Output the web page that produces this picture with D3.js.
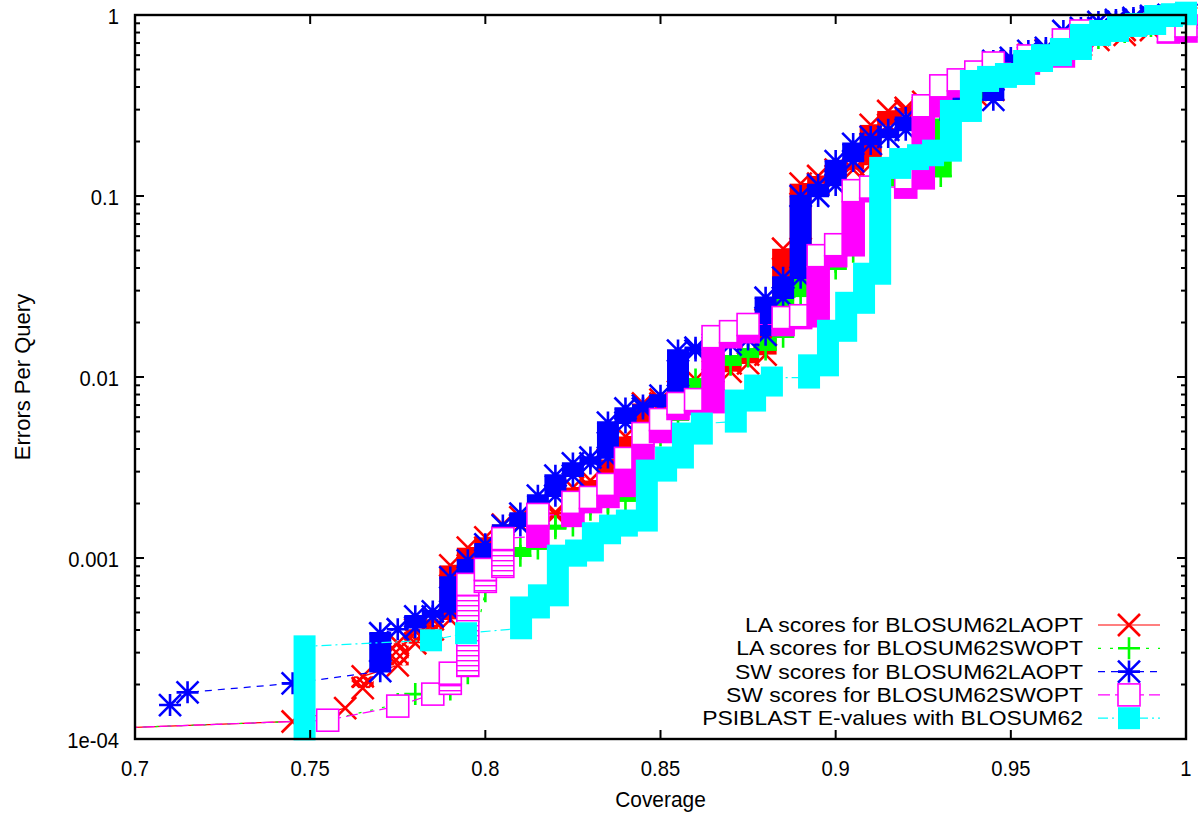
<!DOCTYPE html>
<html><head><meta charset="utf-8">
<script src="https://cdn.jsdelivr.net/npm/d3@7"></script>
<style>body{margin:0;background:#fff} text{font-family:"Liberation Sans",Arial,sans-serif;fill:#000}</style>
</head><body><svg id="c" width="1200" height="819"></svg>
<script>
// ---- data ----
const xTicks = [0.7, 0.75, 0.8, 0.85, 0.9, 0.95, 1];
const xTickLabels = ["0.7", "0.75", "0.8", "0.85", "0.9", "0.95", "1"];
const yTicks = [1e-4, 1e-3, 1e-2, 0.1, 1];
const yTickLabels = ["1e-04", "0.001", "0.01", "0.1", "1"];
const seriesNames = [
  "LA scores for BLOSUM62LAOPT",
  "LA scores for BLOSUM62SWOPT",
  "SW scores for BLOSUM62LAOPT",
  "SW scores for BLOSUM62SWOPT",
  "PSIBLAST E-values with BLOSUM62"
];
// each entry: [coverage, errors per query at bottom of run, errors per query at top of run]
const laLaopt = [
  [0.61,1.0e-4,1.0e-4],[0.745,1.25e-4,1.25e-4],[0.76,1.48e-4,1.48e-4],[0.765,1.91e-4,2.22e-4],
  [0.775,2.55e-4,3.38e-4],[0.78,3.38e-4,4.04e-4],[0.785,4.04e-4,4.58e-4],[0.79,4.58e-4,9.10e-4],
  [0.795,9.10e-4,1.14e-3],[0.80,1.14e-3,1.30e-3],[0.805,1.30e-3,1.53e-3],[0.81,1.53e-3,1.68e-3],
  [0.815,1.68e-3,1.74e-3],[0.82,1.74e-3,1.79e-3],[0.825,1.79e-3,2.45e-3],[0.83,2.45e-3,2.68e-3],
  [0.835,2.68e-3,3.50e-3],[0.84,3.50e-3,4.69e-3],[0.845,4.69e-3,7.14e-3],[0.85,7.14e-3,7.50e-3],
  [0.855,7.50e-3,8.30e-3],[0.86,8.30e-3,9.68e-3],[0.865,9.68e-3,1.07e-2],[0.87,1.07e-2,1.19e-2],
  [0.875,1.19e-2,1.33e-2],[0.88,1.33e-2,2.07e-2],[0.885,2.07e-2,5.11e-2],[0.89,5.11e-2,0.117],
  [0.895,0.117,0.129],[0.90,0.129,0.140],[0.905,0.140,0.149],[0.91,0.149,0.247],
  [0.915,0.247,0.295],[0.92,0.295,0.307],[0.925,0.307,0.331],[0.93,0.331,0.348],
  [0.935,0.348,0.362],[0.94,0.362,0.386],[0.945,0.386,0.497],[0.95,0.497,0.550],
  [0.955,0.550,0.602],[0.96,0.602,0.641],[0.965,0.641,0.683],[0.97,0.683,0.728],
  [0.975,0.728,0.776],[0.9825,0.776,0.826],[0.99,0.826,0.915],[0.995,0.915,0.963],[1.0,0.963,1.0]
];
const laSwopt = [
  [0.61,1.0e-4,1.0e-4],[0.755,1.27e-4,1.27e-4],[0.775,1.56e-4,1.56e-4],[0.78,1.77e-4,1.77e-4],
  [0.79,1.88e-4,2.31e-4],[0.795,2.31e-4,2.31e-4],[0.80,6.55e-4,9.82e-4],[0.805,9.82e-4,1.03e-3],
  [0.81,1.03e-3,1.13e-3],[0.815,1.13e-3,1.46e-3],[0.82,1.46e-3,1.50e-3],[0.825,1.51e-3,1.85e-3],
  [0.83,1.85e-3,1.98e-3],[0.835,1.98e-3,2.03e-3],[0.84,2.08e-3,2.72e-3],[0.845,2.72e-3,4.52e-3],
  [0.85,4.75e-3,5.82e-3],[0.855,5.82e-3,7.50e-3],[0.86,7.50e-3,9.68e-3],[0.865,9.68e-3,1.17e-2],
  [0.87,1.17e-2,1.30e-2],[0.875,1.30e-2,1.42e-2],[0.88,1.42e-2,1.61e-2],[0.885,1.67e-2,2.67e-2],
  [0.89,2.81e-2,3.92e-2],[0.895,3.92e-2,3.97e-2],[0.90,3.97e-2,4.33e-2],[0.905,4.92e-2,0.0953],
  [0.91,0.0953,0.115],[0.915,0.115,0.123],[0.92,0.123,0.129],[0.925,0.129,0.129],
  [0.93,0.129,0.263],[0.935,0.263,0.340],[0.94,0.340,0.411],[0.945,0.411,0.497],
  [0.95,0.497,0.530],[0.955,0.530,0.579],[0.96,0.579,0.617],[0.965,0.625,0.683],
  [0.97,0.683,0.747],[0.975,0.747,0.806],[0.9825,0.806,0.870],[0.99,0.870,0.938],[1.0,0.938,1.0]
];
const swLaopt = [
  [0.71,1.54e-4,1.54e-4],[0.715,1.81e-4,1.81e-4],[0.745,2.03e-4,2.03e-4],[0.77,2.37e-4,3.84e-4],
  [0.775,4.04e-4,4.04e-4],[0.78,4.14e-4,4.76e-4],[0.785,4.76e-4,5.07e-4],[0.79,5.07e-4,7.81e-4],
  [0.795,7.81e-4,9.71e-4],[0.80,9.71e-4,1.19e-3],[0.805,1.19e-3,1.51e-3],[0.81,1.51e-3,1.76e-3],
  [0.815,1.76e-3,2.21e-3],[0.82,2.21e-3,2.85e-3],[0.825,2.85e-3,3.33e-3],[0.83,3.33e-3,3.59e-3],
  [0.835,3.59e-3,5.60e-3],[0.84,5.60e-3,6.70e-3],[0.845,6.70e-3,6.95e-3],[0.85,6.95e-3,7.89e-3],
  [0.855,7.89e-3,1.40e-2],[0.86,1.40e-2,1.45e-2],[0.865,1.45e-2,1.51e-2],[0.87,1.51e-2,1.61e-2],
  [0.875,1.61e-2,1.71e-2],[0.88,1.71e-2,2.74e-2],[0.885,2.74e-2,3.54e-2],[0.89,3.54e-2,0.100],
  [0.895,0.100,0.115],[0.90,0.115,0.156],[0.905,0.156,0.194],[0.91,0.194,0.212],
  [0.915,0.212,0.232],[0.92,0.232,0.270],[0.925,0.270,0.299],[0.93,0.299,0.323],
  [0.935,0.323,0.340],[0.945,0.340,0.557],[0.95,0.557,0.579],[0.955,0.579,0.633],
  [0.96,0.633,0.658],[0.965,0.658,0.816],[0.97,0.816,0.848],[0.975,0.848,0.915],
  [0.98,0.915,0.938],[0.985,0.938,0.963],[0.99,0.963,0.987],[0.995,0.987,1.0],[1.0,1.0,1.01]
];
const swSwopt = [
  [0.61,1.0e-4,1.0e-4],[0.755,1.27e-4,1.27e-4],[0.775,1.52e-4,1.52e-4],[0.785,1.77e-4,1.77e-4],
  [0.79,2.03e-4,2.31e-4],[0.795,2.55e-4,7.15e-4],[0.80,7.43e-4,8.65e-4],[0.805,8.99e-4,1.28e-3],
  [0.815,1.32e-3,1.74e-3],[0.825,1.72e-3,2.03e-3],[0.83,2.05e-3,2.16e-3],[0.835,2.19e-3,2.55e-3],
  [0.84,2.52e-3,3.55e-3],[0.845,3.55e-3,4.87e-3],[0.85,5.00e-3,5.82e-3],[0.855,6.70e-3,7.14e-3],
  [0.86,7.14e-3,7.50e-3],[0.865,7.31e-3,1.67e-2],[0.87,1.67e-2,1.78e-2],[0.875,1.78e-2,1.95e-2],
  [0.885,1.95e-2,2.13e-2],[0.89,2.13e-2,2.18e-2],[0.895,2.18e-2,4.68e-2],[0.90,4.68e-2,5.38e-2],
  [0.905,5.38e-2,0.107],[0.91,0.107,0.112],[0.92,0.112,0.126],[0.925,0.126,0.315],
  [0.93,0.315,0.406],[0.935,0.406,0.438],[0.94,0.438,0.484],[0.945,0.484,0.543],
  [0.955,0.543,0.594],[0.965,0.594,0.728],[0.97,0.728,0.816],[0.995,0.805,0.816],[1.0,0.816,0.870]
];
const psiblast = [
  [0.7484,1.13e-4,3.25e-4],[0.7845,3.51e-4,3.51e-4],[0.7945,3.84e-4,3.84e-4],[0.8102,4.09e-4,5.33e-4],
  [0.8153,5.33e-4,6.22e-4],[0.8207,6.22e-4,1.03e-3],[0.8259,1.03e-3,1.10e-3],[0.8307,1.10e-3,1.37e-3],
  [0.8356,1.37e-3,1.51e-3],[0.8404,1.51e-3,1.61e-3],[0.8461,1.61e-3,3.04e-3],[0.8516,3.04e-3,3.59e-3],
  [0.8564,3.59e-3,4.87e-3],[0.8618,4.87e-3,5.53e-3],[0.8715,5.67e-3,7.41e-3],[0.8770,7.41e-3,8.97e-3],
  [0.8818,8.97e-3,9.93e-3],[0.8924,9.93e-3,1.16e-2],[0.8978,1.16e-2,1.80e-2],[0.9030,1.80e-2,2.57e-2],
  [0.9081,2.57e-2,3.72e-2],[0.9127,3.72e-2,0.143],[0.9184,0.143,0.160],[0.9235,0.160,0.168],
  [0.9278,0.168,0.178],[0.9329,0.178,0.295],[0.9386,0.295,0.432],[0.9435,0.432,0.455],
  [0.9486,0.455,0.472],[0.9538,0.472,0.557],[0.9589,0.557,0.600],[0.9643,0.600,0.649],
  [0.9700,0.649,0.776],[0.9755,0.776,0.816],[0.9806,0.816,0.870],[0.9857,0.870,0.892],
  [0.9912,0.892,0.987],[0.9960,0.987,1.01],[1.0,1.01,1.03]
];
const seriesData = [laLaopt, laSwopt, swLaopt, swSwopt, psiblast];
const seriesColors = ["#ff0000", "#00ff00", "#0000ff", "#ff00ff", "#00ffff"];
const seriesShapes = ["x", "plus", "star", "square", "filledSquare"];
const seriesDashes = [null, "3,9", "7,6", "12,5", "10,4,2,4"];

// ---- layout ----
const M = {left: 135, right: 1186, top: 15, bottom: 739};
const x = d3.scaleLinear().domain([0.7, 1]).range([M.left, M.right]);
const y = d3.scaleLog().domain([1e-4, 1]).range([M.bottom, M.top]);
const S = 11; // marker half-size
const svg = d3.select("#c");
const defs = svg.append("defs");
defs.append("clipPath").attr("id", "clip").append("rect")
  .attr("x", M.left).attr("y", M.top).attr("width", M.right - M.left).attr("height", M.bottom - M.top);
const pat = defs.append("pattern").attr("id", "hatch").attr("patternUnits", "userSpaceOnUse")
  .attr("width", 8).attr("height", 5);
pat.append("rect").attr("width", 8).attr("height", 5).attr("fill", "#fff");
pat.append("rect").attr("y", 0).attr("width", 8).attr("height", 1.4).attr("fill", "#ff00ff");
const xpat = defs.append("pattern").attr("id", "xhatch").attr("patternUnits", "userSpaceOnUse")
  .attr("width", 8).attr("height", 8);
xpat.append("rect").attr("width", 8).attr("height", 8).attr("fill", "#fff");
xpat.append("path").attr("d", "M0,0L8,8M8,0L0,8").attr("stroke", "#ff0000").attr("stroke-width", 2.4);

function markerPath(shape) {
  const xs = `M${-S},${-S}L${S},${S}M${-S},${S}L${S},${-S}`;
  const ps = `M${-S},0L${S},0M0,${-S}L0,${S}`;
  if (shape === "x") return xs;
  if (shape === "plus") return ps;
  return xs + ps;
}

function drawMarker(g, shape, color, cx, cy) {
  if (shape === "filledSquare") {
    g.append("rect").attr("x", cx - S).attr("y", cy - S).attr("width", 2 * S).attr("height", 2 * S).attr("fill", color);
  } else if (shape === "square") {
    g.append("rect").attr("x", cx - S).attr("y", cy - S).attr("width", 2 * S).attr("height", 2 * S)
      .attr("fill", "#fff").attr("stroke", color).attr("stroke-width", 1.6);
  } else {
    g.append("path").attr("transform", `translate(${cx},${cy})`).attr("d", markerPath(shape))
      .attr("stroke", color).attr("stroke-width", 2.6).attr("fill", "none");
  }
}

function drawRun(g, d, shape, color) {
  const cx = x(d[0]), yl = y(d[1]), yh = y(d[2]);
  const h = yl - yh;
  if (shape === "filledSquare") {
    g.append("rect").attr("x", cx - S).attr("y", yh - S).attr("width", 2 * S).attr("height", h + 2 * S).attr("fill", color);
    return;
  }
  if (shape === "square") {
    if (h > 0.5) {
      g.append("rect").attr("x", cx - S).attr("y", yh + S).attr("width", 2 * S).attr("height", h)
        .attr("fill", d[2] < 1.5e-3 ? "url(#hatch)" : color).attr("stroke", color).attr("stroke-width", 1.6);
    }
    drawMarker(g, shape, color, cx, yh);
    return;
  }
  if (h > 0.5) {
    const pad = shape === "plus" ? 1.3 : 0;
    const sparse = shape === "x" && d[2] < 6e-4;
    g.append("rect").attr("x", cx - S).attr("y", yh - pad).attr("width", 2 * S).attr("height", h + 2 * pad)
      .attr("fill", sparse ? "url(#xhatch)" : color);
    drawMarker(g, shape, color, cx, yl);
  }
  drawMarker(g, shape, color, cx, yh);
}

// ---- series ----
const plotG = svg.append("g");
seriesData.forEach((data, i) => {
  const g = plotG.append("g");
  const pts = [];
  data.forEach(d => { pts.push([d[0], d[1]]); if (d[2] !== d[1]) pts.push([d[0], d[2]]); });
  const line = d3.line().x(p => x(p[0])).y(p => y(p[1]));
  g.append("path").attr("d", line(pts)).attr("clip-path", "url(#clip)")
    .attr("fill", "none").attr("stroke", seriesColors[i]).attr("stroke-width", 1.2)
    .attr("stroke-dasharray", seriesDashes[i]);
  data.filter(d => d[0] >= 0.7).forEach(d => drawRun(g, d, seriesShapes[i], seriesColors[i]));
});

// ---- axes ----
const axG = svg.append("g");
const tickMaj = 9, tickMin = 5;
function label(g, tx, ty, str, anchor, size, sx) {
  g.append("text").attr("transform", `translate(${tx},${ty}) scale(${sx},1)`)
    .attr("text-anchor", anchor).attr("dominant-baseline", "central").attr("font-size", size).text(str);
}
xTicks.forEach(t => {
  const px = x(t);
  axG.append("line").attr("x1", px).attr("x2", px).attr("y1", M.bottom).attr("y2", M.bottom - tickMaj).attr("stroke", "#000").attr("stroke-width", 2);
  axG.append("line").attr("x1", px).attr("x2", px).attr("y1", M.top).attr("y2", M.top + tickMaj).attr("stroke", "#000").attr("stroke-width", 2);
});
xTickLabels.forEach((lab, i) => label(axG, x(xTicks[i]), 768, lab, "middle", 22, 0.92));
yTicks.forEach((t, i) => {
  const py = y(t);
  axG.append("line").attr("x1", M.left).attr("x2", M.left + tickMaj).attr("y1", py).attr("y2", py).attr("stroke", "#000").attr("stroke-width", 2);
  axG.append("line").attr("x1", M.right).attr("x2", M.right - tickMaj).attr("y1", py).attr("y2", py).attr("stroke", "#000").attr("stroke-width", 2);
  label(axG, 119, py + 1, yTickLabels[i], "end", 22, 0.92);
});
yTicks.slice(0, -1).forEach(dec => {
  for (let m = 2; m <= 9; m++) {
    const py = y(dec * m);
    axG.append("line").attr("x1", M.left).attr("x2", M.left + tickMin).attr("y1", py).attr("y2", py).attr("stroke", "#000").attr("stroke-width", 2);
    axG.append("line").attr("x1", M.right).attr("x2", M.right - tickMin).attr("y1", py).attr("y2", py).attr("stroke", "#000").attr("stroke-width", 2);
  }
});
axG.append("rect").attr("x", M.left).attr("y", M.top).attr("width", M.right - M.left).attr("height", M.bottom - M.top)
  .attr("fill", "none").attr("stroke", "#000").attr("stroke-width", 2.4);
label(axG, (M.left + M.right) / 2, 800, "Coverage", "middle", 22, 0.95);
axG.append("text").attr("transform", "translate(22,377) rotate(-90)").attr("text-anchor", "middle")
  .attr("dominant-baseline", "central").attr("font-size", 22).text("Errors Per Query");

// ---- legend ----
const lg = svg.append("g");
seriesNames.forEach((name, i) => {
  const ry = 625 + i * 23.3;
  label(lg, 1083, ry, name, "end", 20.5, 1.12);
  lg.append("line").attr("x1", 1098).attr("x2", 1160).attr("y1", ry).attr("y2", ry)
    .attr("stroke", seriesColors[i]).attr("stroke-width", 1.2).attr("stroke-dasharray", seriesDashes[i]);
  drawMarker(lg, seriesShapes[i], seriesColors[i], 1129, ry);
});
</script></body></html>
